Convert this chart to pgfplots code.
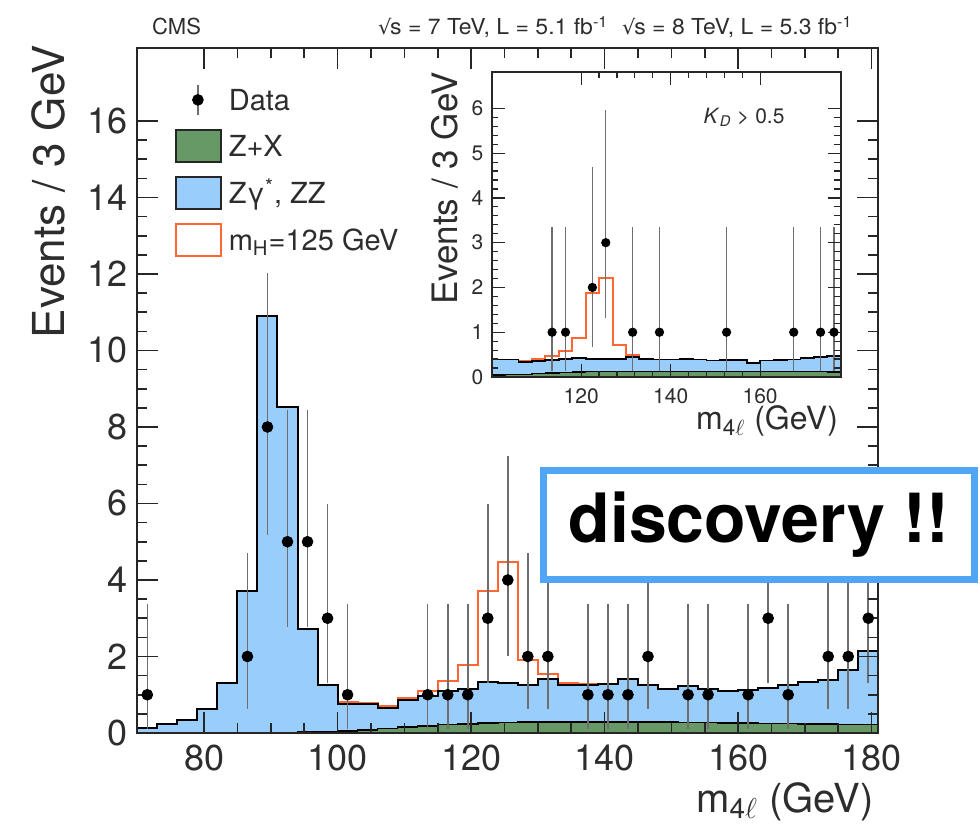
\documentclass[border=0pt]{standalone}
\usepackage{fontspec}
\setmainfont{TeX Gyre Heros}
\newfontfamily\dejavu{DejaVu Sans}
\usepackage{pgfplots}
\usepackage{pgfplotstable}
\pgfplotsset{compat=1.18}
\usepackage{graphicx}

\definecolor{zxgreen}{RGB}{102,153,102}
\definecolor{zzblue}{RGB}{153,206,252}
\definecolor{sigorange}{RGB}{255,102,51}
\definecolor{boxblue}{RGB}{80,166,245}
\definecolor{ebar}{RGB}{110,110,110}
\definecolor{txt}{RGB}{45,45,45}

\newcommand{\rts}{{\dejavu\fontsize{10}{12}\selectfont √}\kern-0.05em s}

% ---------- main plot: background totals (bin left edges, GeV) ----------
\pgfplotstableread{
x tot
70 0.14
73 0.23
76 0.34
79 0.64
82 1.30
85 3.71
88 10.90
91 8.52
94 2.72
97 1.25
100 0.77
103 0.77
106 0.66
109 0.87
112 0.98
115 1.10
118 1.16
121 1.33
124 1.31
127 1.25
130 1.40
133 1.25
136 1.25
139 1.27
142 1.40
145 1.25
148 1.16
151 1.24
154 1.16
157 1.10
160 1.13
163 1.18
166 1.25
169 1.33
172 1.38
175 1.65
178 2.14
181 2.14
}\maintot

\pgfplotstableread{
x zx
70 0.01
73 0.01
76 0.01
79 0.01
82 0.01
85 0.01
88 0.01
91 0.015
94 0.02
97 0.03
100 0.05
103 0.08
106 0.12
109 0.16
112 0.19
115 0.22
118 0.24
121 0.26
124 0.27
127 0.28
130 0.28
133 0.29
136 0.29
139 0.29
142 0.29
145 0.28
148 0.28
151 0.27
154 0.27
157 0.26
160 0.26
163 0.25
166 0.25
169 0.24
172 0.23
175 0.22
178 0.22
181 0.22
}\mainzx

\pgfplotstableread{
x sig
100 0.80
103 0.79
106 0.70
109 0.91
112 1.11
115 1.37
118 1.79
121 3.71
124 4.47
127 1.90
130 1.53
133 1.30
136 1.27
139 1.28
142 1.40
145 1.40
}\mainsig

\pgfplotstableread{
x y ep em
71.5 1 2.300 0.827
86.5 2 2.638 1.292
89.5 8 3.945 2.768
92.5 5 3.382 2.160
95.5 5 3.382 2.160
98.5 3 2.918 1.633
101.5 1 2.300 0.827
113.5 1 2.300 0.827
116.5 1 2.300 0.827
119.5 1 2.300 0.827
122.5 3 2.918 1.633
125.5 4 3.163 1.914
128.5 2 2.638 1.292
131.5 2 2.638 1.292
137.5 1 2.300 0.827
140.5 1 2.300 0.827
143.5 1 2.300 0.827
146.5 2 2.638 1.292
152.5 1 2.300 0.827
155.5 1 2.300 0.827
161.5 1 2.300 0.827
164.5 3 2.918 1.633
167.5 1 2.300 0.827
173.5 2 2.638 1.292
176.5 2 2.638 1.292
179.5 3 2.918 1.633
}\maindata

% ---------- inset (K_D > 0.5) ----------
\pgfplotstableread{
x tot
100 0.39
103 0.39
106 0.34
109 0.35
112 0.38
115 0.40
118 0.42
121 0.41
124 0.41
127 0.40
130 0.44
133 0.40
136 0.39
139 0.39
142 0.40
145 0.39
148 0.37
151 0.38
154 0.38
157 0.32
160 0.37
163 0.38
166 0.39
169 0.43
172 0.45
175 0.47
178 0.47
}\instot

\pgfplotstableread{
x zx
100 0.04
103 0.05
106 0.06
109 0.08
112 0.09
115 0.10
118 0.11
121 0.12
124 0.12
127 0.12
130 0.12
133 0.12
136 0.12
139 0.12
142 0.12
145 0.12
148 0.12
151 0.12
154 0.12
157 0.12
160 0.12
163 0.12
166 0.12
169 0.12
172 0.12
175 0.11
178 0.11
}\inszx

\pgfplotstableread{
x sig
106 0.36
109 0.40
112 0.47
115 0.57
118 0.88
121 1.87
124 2.22
127 0.71
130 0.49
133 0.41
136 0.39
}\inssig

\pgfplotstableread{
x y ep em
113.5 1 2.300 0.827
116.5 1 2.300 0.827
122.5 2 2.638 1.292
125.5 3 2.918 1.633
131.5 1 2.300 0.827
137.5 1 2.300 0.827
152.5 1 2.300 0.827
167.5 1 2.300 0.827
173.5 1 2.300 0.827
176.5 1 2.300 0.827
}\insdata

\begin{document}
\begin{tikzpicture}
\useasboundingbox (-68.65pt,-52.5pt) rectangle (421.35pt,366.5pt);

% ================= main axis =================
\begin{axis}[
  at={(0pt,0pt)}, anchor=south west,
  scale only axis, width=370.5pt, height=342.35pt,
  xmin=70, xmax=181, ymin=0, ymax=17.9,
  xtick={80,100,...,180}, ytick={0,2,...,16},
  minor x tick num=3, minor y tick num=3,
  tick align=inside,
  major tick length=10.5pt, minor tick length=5pt,
  every tick/.style={black!85, line width=0.8pt},
  axis line style={black!85, line width=1pt},
  axis on top,
  /pgf/number format/assume math mode=true,
  tick label style={font=\fontsize{18}{21}\selectfont, text=txt},
  xticklabel style={inner sep=0pt, yshift=-6pt},
  yticklabel style={inner sep=0pt, xshift=-4.5pt},
  every axis y label/.style={at={(axis description cs:-0.0976,1.0048)}, rotate=90, anchor=base east,
     font=\fontsize{22}{26}\selectfont, text=txt, inner sep=0pt},
  every axis x label/.style={at={(axis description cs:0.9942,-0.1154)}, anchor=base east,
     font=\fontsize{20}{24}\selectfont, text=txt, inner sep=0pt},
  ylabel={Events / 3 GeV},
  xlabel={m\textsubscript{4$\ell$} (GeV)},
  legend cell align=left,
  legend style={at={(axis description cs:0.0509,0.948)}, anchor=north west,
     draw=none, fill=none, inner sep=0pt, outer sep=0pt,
     row sep=6.6pt, column sep=3.5pt,
     font=\fontsize{14.5}{17}\selectfont, text=txt,
     nodes={inner sep=0pt, text height=10.5pt, text depth=0pt}},
]
\addlegendimage{legend image code/.code={
   \path[draw=none, fill=none] (0pt,-8pt) rectangle (22.5pt,8pt);
   \draw[ebar, line width=0.8pt] (11pt,-7.5pt) -- (11pt,7.5pt);
   \fill[black] (11pt,0pt) circle (2.7pt);}}
\addlegendentry{Data}
\addlegendimage{legend image code/.code={
   \draw[fill=zxgreen, draw=black!85, line width=0.9pt] (0pt,-8pt) rectangle (22.5pt,8pt);}}
\addlegendentry{Z+X}
\addlegendimage{legend image code/.code={
   \draw[fill=zzblue, draw=black!85, line width=0.9pt] (0pt,-8pt) rectangle (22.5pt,8pt);}}
\addlegendentry{Zγ\textsuperscript{*}, ZZ}
\addlegendimage{legend image code/.code={
   \draw[fill=white, draw=sigorange, line width=0.9pt] (0pt,-8pt) rectangle (22.5pt,8pt);}}
\addlegendentry{m\textsubscript{H}=125 GeV}

\addplot[forget plot, const plot, draw=sigorange, line width=1pt] table[x=x, y=sig] {\mainsig};
\addplot[forget plot, const plot, fill=zzblue, draw=black, line width=1pt] table[x=x, y=tot] {\maintot} \closedcycle;
\addplot[forget plot, const plot, fill=zxgreen, draw=black, line width=0.8pt] table[x=x, y=zx] {\mainzx} \closedcycle;
\addplot[forget plot, only marks, mark=*, mark size=2.7pt, black,
   error bars/.cd, y dir=both, y explicit,
   error bar style={ebar, line width=0.8pt},
   error mark options={ebar, line width=0.8pt, mark size=1.3pt}]
   table[x=x, y=y, y error plus=ep, y error minus=em] {\maindata};
\end{axis}

% ================= inset axis =================
\begin{axis}[
  at={(177.2pt,178pt)}, anchor=south west,
  scale only axis, width=174.5pt, height=152.65pt,
  xmin=100, xmax=178, ymin=0, ymax=6.82,
  xtick={120,140,160}, ytick={0,1,...,6},
  minor x tick num=4, minor y tick num=4,
  tick align=inside,
  major tick length=6.5pt, minor tick length=3.2pt,
  every tick/.style={black!85, line width=0.6pt},
  axis line style={black!85, line width=0.9pt},
  axis on top,
  axis background/.style={fill=white},
  /pgf/number format/assume math mode=true,
  tick label style={font=\fontsize{10.5}{12}\selectfont, text=txt},
  xticklabel style={inner sep=0pt, yshift=-5.5pt},
  yticklabel style={inner sep=0pt, xshift=-4pt},
  every axis y label/.style={at={(axis description cs:-0.0994,1)}, rotate=90, anchor=base east,
     font=\fontsize{17.5}{21}\selectfont, text=txt, inner sep=0pt},
  every axis x label/.style={at={(axis description cs:0.9931,-0.1736)}, anchor=base east,
     font=\fontsize{16}{19}\selectfont, text=txt, inner sep=0pt},
  ylabel={Events / 3 GeV},
  xlabel={m\textsubscript{4$\ell$} (GeV)},
]
\addplot[const plot, draw=sigorange, line width=1pt] table[x=x, y=sig] {\inssig};
\addplot[const plot, fill=zzblue, draw=black, line width=0.9pt] table[x=x, y=tot] {\instot} \closedcycle;
\addplot[const plot, fill=zxgreen, draw=black, line width=0.7pt] table[x=x, y=zx] {\inszx} \closedcycle;
\addplot[only marks, mark=*, mark size=2.1pt, black,
   error bars/.cd, y dir=both, y explicit,
   error bar style={ebar, line width=0.7pt},
   error mark options={ebar, line width=0.7pt, mark size=1pt}]
   table[x=x, y=y, y error plus=ep, y error minus=em] {\insdata};
\node[anchor=base west, font=\fontsize{10.5}{12}\selectfont, text=txt, inner sep=0pt]
   at (axis cs:147.3,5.66) {\textit{K}\textsubscript{\textit{D}} > 0.5};
\end{axis}

% ================= annotations =================
\node[anchor=base west, font=\fontsize{11}{13}\selectfont, text=txt, inner sep=0pt]
   at (7.2pt,349pt) {CMS};
\node[anchor=base east, font=\fontsize{11}{13}\selectfont, text=txt, inner sep=0pt]
   at (357.8pt,349pt) {\scalebox{1.045}[1]{\rts{} = 7 TeV, L = 5.1 fb\textsuperscript{-1}\hspace{0.6em}\rts{} = 8 TeV, L = 5.3 fb\textsuperscript{-1}}};
\node[draw=boxblue, line width=3.65pt, fill=white, minimum width=215.35pt, minimum height=54.35pt,
   inner sep=0pt, font=\fontsize{34}{40}\selectfont\bfseries]
   at (310.85pt,104pt) {discovery !!};
\end{tikzpicture}
\end{document}
